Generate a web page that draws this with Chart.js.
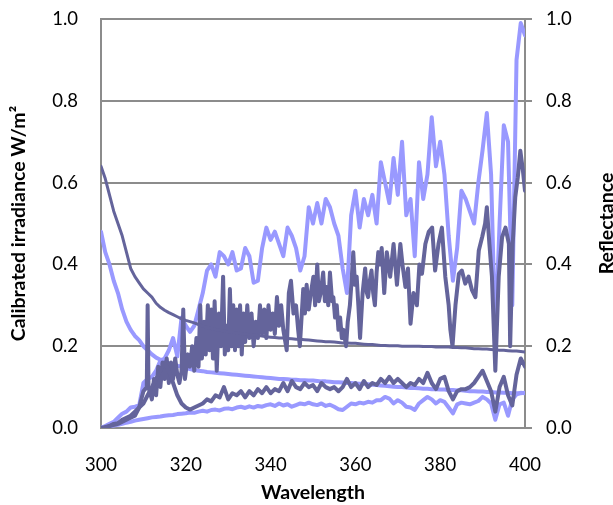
<!DOCTYPE html>
<html>
<head>
<meta charset="utf-8">
<script src="https://cdn.jsdelivr.net/npm/chart.js@4/dist/chart.umd.min.js"></script>
<style>
  html, body { margin: 0; padding: 0; background: #fff; }
  #wrap { width: 613px; height: 505px; }
</style>
</head>
<body>
<div id="wrap"><canvas id="canvas" width="613" height="505"></canvas></div>
<script>
// wavelength grid (nm) for the 1 nm series
const wavelengths = Array.from({ length: 101 }, (_, i) => 300 + i);

// reflectance, dark
const reflDark = [
  0.64, 0.61, 0.57, 0.53, 0.50, 0.47, 0.43, 0.39, 0.37, 0.355,
  0.34, 0.33, 0.32, 0.305, 0.295, 0.288, 0.282, 0.277, 0.272, 0.267,
  0.263, 0.26, 0.257, 0.253, 0.249, 0.246, 0.243, 0.241, 0.239, 0.237,
  0.235, 0.234, 0.232, 0.231, 0.23, 0.228, 0.227, 0.226, 0.225, 0.223,
  0.222, 0.221, 0.22, 0.22, 0.219, 0.218, 0.217, 0.217, 0.216, 0.215,
  0.214, 0.213, 0.212, 0.211, 0.211, 0.21, 0.209, 0.208, 0.208, 0.207,
  0.207, 0.206, 0.205, 0.204, 0.204, 0.203, 0.202, 0.202, 0.201, 0.201,
  0.201, 0.2, 0.2, 0.2, 0.2, 0.2, 0.199, 0.199, 0.199, 0.198,
  0.198, 0.198, 0.198, 0.197, 0.197, 0.196, 0.196, 0.195, 0.194, 0.194,
  0.193, 0.193, 0.192, 0.191, 0.19, 0.19, 0.189, 0.188, 0.188, 0.187,
  0.186
];

// reflectance, light
const reflLight = [
  0.48, 0.43, 0.40, 0.36, 0.33, 0.29, 0.26, 0.24, 0.225, 0.215,
  0.20, 0.19, 0.18, 0.172, 0.167, 0.163, 0.158, 0.155, 0.152, 0.15,
  0.146, 0.144, 0.142, 0.14, 0.139, 0.137, 0.136, 0.135, 0.134, 0.133,
  0.132, 0.131, 0.13, 0.129, 0.128, 0.127, 0.126, 0.125, 0.124, 0.123,
  0.122, 0.121, 0.12, 0.12, 0.119, 0.118, 0.118, 0.117, 0.117, 0.116,
  0.116, 0.115, 0.114, 0.114, 0.113, 0.112, 0.112, 0.111, 0.11, 0.11,
  0.109, 0.108, 0.108, 0.107, 0.106, 0.105, 0.104, 0.103, 0.102, 0.101,
  0.1, 0.1, 0.099, 0.098, 0.098, 0.097, 0.096, 0.096, 0.095, 0.095,
  0.094, 0.094, 0.093, 0.093, 0.092, 0.092, 0.091, 0.09, 0.09, 0.089,
  0.089, 0.088, 0.088, 0.087, 0.087, 0.086, 0.086, 0.085, 0.085, 0.085,
  0.086
];

// calibrated irradiance, light, high
const irrLightHigh = [
  0.0, 0.005, 0.01, 0.015, 0.025, 0.035, 0.04, 0.05, 0.052, 0.055,
  0.11, 0.12, 0.125, 0.14, 0.165, 0.17, 0.19, 0.22, 0.175, 0.27,
  0.25, 0.235, 0.25, 0.29, 0.33, 0.385, 0.40, 0.37, 0.43, 0.42,
  0.40, 0.43, 0.385, 0.39, 0.44, 0.42, 0.355, 0.36, 0.44, 0.49,
  0.46, 0.48, 0.45, 0.42, 0.49, 0.47, 0.44, 0.385, 0.42, 0.54,
  0.50, 0.55, 0.50, 0.56, 0.54, 0.50, 0.47, 0.39, 0.33, 0.52,
  0.58, 0.49, 0.56, 0.52, 0.57, 0.50, 0.65, 0.60, 0.55, 0.66,
  0.57, 0.70, 0.52, 0.56, 0.42, 0.65, 0.56, 0.62, 0.76, 0.64,
  0.70, 0.62, 0.47, 0.36, 0.44, 0.58, 0.56, 0.53, 0.50, 0.60,
  0.68, 0.77, 0.62, 0.22, 0.50, 0.74, 0.70, 0.30, 0.90, 0.99,
  0.96
];

// calibrated irradiance, dark, low
const irrDarkLow = [
  0.0, 0.0, 0.005, 0.01, 0.012, 0.02, 0.025, 0.03, 0.04, 0.05,
  0.06, 0.08, 0.10, 0.12, 0.14, 0.16, 0.14, 0.11, 0.08, 0.06,
  0.05, 0.045, 0.05, 0.055, 0.06, 0.07, 0.065, 0.08, 0.075, 0.10,
  0.07, 0.085, 0.08, 0.09, 0.075, 0.09, 0.08, 0.095, 0.085, 0.10,
  0.085, 0.095, 0.09, 0.11, 0.09, 0.115, 0.10, 0.095, 0.11, 0.10,
  0.105, 0.09, 0.11, 0.10, 0.095, 0.10, 0.09, 0.10, 0.12, 0.10,
  0.11, 0.095, 0.115, 0.10, 0.11, 0.105, 0.12, 0.11, 0.125, 0.11,
  0.12, 0.11, 0.10, 0.11, 0.105, 0.12, 0.11, 0.135, 0.11, 0.095,
  0.12, 0.125, 0.09, 0.07, 0.09, 0.095, 0.095, 0.10, 0.11, 0.125,
  0.14, 0.115, 0.09, 0.04, 0.10, 0.125, 0.08, 0.055, 0.13, 0.17,
  0.15
];

// calibrated irradiance, light, low
const irrLightLow = [
  0.0, 0.002, 0.004, 0.006, 0.008, 0.01, 0.013, 0.015, 0.018, 0.02,
  0.022, 0.024, 0.026, 0.027, 0.028, 0.03, 0.031, 0.032, 0.034, 0.035,
  0.036, 0.038, 0.037, 0.04, 0.042, 0.04, 0.044, 0.045, 0.043, 0.047,
  0.048, 0.046, 0.05, 0.052, 0.049, 0.053, 0.05, 0.054, 0.052, 0.056,
  0.058, 0.054, 0.06, 0.055, 0.058, 0.052, 0.056, 0.06, 0.058, 0.062,
  0.058, 0.056, 0.06, 0.054, 0.057, 0.052, 0.046, 0.044, 0.052, 0.06,
  0.058, 0.062, 0.06, 0.064, 0.062, 0.068, 0.068, 0.076, 0.072, 0.06,
  0.068, 0.062, 0.052, 0.05, 0.044, 0.06, 0.068, 0.076, 0.07, 0.06,
  0.068, 0.064, 0.05, 0.036, 0.058, 0.062, 0.06, 0.058, 0.062, 0.066,
  0.076, 0.07, 0.06, 0.02, 0.058, 0.062, 0.03, 0.07, 0.082, 0.086,
  0.085
];

// calibrated irradiance, dark, high (irregular sampling)
const darkHighWl = [
  300, 302, 304, 306, 308, 309, 310, 310.8, 311, 311.2,
  312, 312.5, 313, 313.5, 314, 314.5, 315, 315.5, 316, 316.5,
  317, 317.5, 318, 318.5, 319, 319.4, 319.8, 320.5, 321, 321.5,
  322, 322.5, 323, 323.4, 323.8, 324.3, 324.7, 325.2, 325.6, 326,
  326.4, 326.8, 327.3, 327.8, 328.3, 328.8, 329.2, 329.6, 330, 330.4,
  330.8, 331.2, 331.6, 332, 332.4, 332.8, 333.2, 333.6, 334, 334.5,
  335, 335.5, 336, 336.5, 337, 337.5, 338, 338.5, 339, 339.5,
  340, 340.5, 341, 341.5, 342, 342.5, 343, 343.8, 344.3, 344.8,
  345.4, 346, 346.5, 346.9, 347.7, 348.1, 348.5, 349, 349.5, 350.1,
  350.5, 351, 351.4, 351.8, 352.4, 352.8, 353.2, 353.6, 354, 354.5,
  354.8, 355.2, 355.6, 356, 356.4, 356.8, 357.2, 357.8, 358.2, 358.7,
  359.1, 359.5, 359.9, 360.3, 360.7, 361.1, 361.7, 362.3, 362.7, 363,
  363.4, 363.8, 364.2, 364.6, 365, 365.4, 365.8, 366.2, 366.8, 367.4,
  368.2, 369, 369.8, 370.6, 371.1, 371.8, 372.4, 373, 373.7, 374.5,
  375.1, 375.7, 376.5, 377.3, 378.1, 378.8, 379.6, 380.4, 381.2, 382,
  382.4, 382.9, 383.6, 384.4, 385.1, 385.9, 386.7, 387.5, 388.3, 389.1,
  389.9, 390.6, 391, 391.6, 392.2, 393, 393.8, 394.6, 395.4, 396.2,
  396.5, 397.1, 397.7, 398.3, 398.9, 399.5, 400
];
const darkHighVal = [
  0.0, 0.005, 0.01, 0.02, 0.03, 0.05, 0.09, 0.10, 0.30, 0.10,
  0.07, 0.12, 0.08, 0.15, 0.10, 0.16, 0.12, 0.17, 0.11, 0.16,
  0.12, 0.17, 0.13, 0.11, 0.14, 0.29, 0.12, 0.18, 0.15, 0.20,
  0.14, 0.22, 0.15, 0.30, 0.17, 0.26, 0.18, 0.30, 0.19, 0.29,
  0.17, 0.31, 0.14, 0.28, 0.20, 0.37, 0.18, 0.25, 0.19, 0.34,
  0.20, 0.30, 0.19, 0.29, 0.20, 0.30, 0.18, 0.28, 0.21, 0.30,
  0.22, 0.28, 0.20, 0.26, 0.22, 0.30, 0.23, 0.29, 0.22, 0.30,
  0.24, 0.28, 0.23, 0.32, 0.25, 0.30, 0.24, 0.19, 0.33, 0.36,
  0.28, 0.30, 0.24, 0.20, 0.34, 0.28, 0.35, 0.29, 0.33, 0.37,
  0.30, 0.40, 0.31, 0.33, 0.38, 0.31, 0.345, 0.30, 0.38, 0.31,
  0.32, 0.27, 0.30, 0.24, 0.27, 0.22, 0.24, 0.20, 0.26, 0.30,
  0.36, 0.43, 0.35, 0.37, 0.30, 0.22, 0.33, 0.39, 0.33, 0.32,
  0.36, 0.385, 0.33, 0.30, 0.38, 0.43, 0.40, 0.44, 0.33, 0.43,
  0.37, 0.45, 0.35, 0.45, 0.40, 0.345, 0.39, 0.255, 0.33, 0.30,
  0.40, 0.377, 0.45, 0.48, 0.49, 0.385, 0.45, 0.49, 0.37, 0.30,
  0.24, 0.20, 0.30, 0.377, 0.385, 0.353, 0.37, 0.337, 0.32, 0.434,
  0.467, 0.50, 0.54, 0.45, 0.37, 0.14, 0.37, 0.467, 0.49, 0.45,
  0.20, 0.45, 0.564, 0.613, 0.678, 0.63, 0.58
];

const yTicks = [0, 0.2, 0.4, 0.6, 0.8, 1.0];
const xTicks = [300, 320, 340, 360, 380, 400];

const DARK = "#64649b";
const LIGHT = "#9999ff";
const GRID = "#8c8c8c";
const FONT = "Lato, 'Open Sans', sans-serif";

const pairs = (xs, ys) => xs.map((x, i) => ({ x: x, y: ys[i] }));

const line = (label, data, color, width, axis) => ({
  label: label,
  data: data,
  borderColor: color,
  backgroundColor: color,
  borderWidth: width,
  pointRadius: 0,
  tension: 0,
  fill: false,
  yAxisID: axis,
  borderJoinStyle: "round",
  borderCapStyle: "round",
});

// fixed box for a vertical axis; drop the tick-label overflow padding
const fixWidth = (w) => (s) => {
  s.width = w;
  s.paddingTop = 0;
  s.paddingBottom = 0;
};

// right-hand axis title, reading bottom to top like the left one
const rightTitle = {
  id: "rightTitle",
  afterDraw(chart) {
    const { ctx, chartArea } = chart;
    ctx.save();
    ctx.translate(607, (chartArea.top + chartArea.bottom) / 2);
    ctx.rotate(-Math.PI / 2);
    ctx.font = "bold 19.5px " + FONT;
    ctx.fillStyle = "#000";
    ctx.textAlign = "center";
    ctx.textBaseline = "middle";
    ctx.fillText("Reflectance", 0, 0);
    ctx.restore();
  }
};

const canvas = document.getElementById("canvas").getContext("2d");

const plot = new Chart(canvas, {
  type: "line",
  data: {
    datasets: [
      line("Reflectance (dark)", pairs(wavelengths, reflDark), DARK, 3, "y1"),
      line("Irradiance low (dark)", pairs(wavelengths, irrDarkLow), DARK, 4, "y"),
      line("Irradiance high (dark)", pairs(darkHighWl, darkHighVal), DARK, 4, "y"),
      line("Reflectance (light)", pairs(wavelengths, reflLight), LIGHT, 4, "y1"),
      line("Irradiance low (light)", pairs(wavelengths, irrLightLow), LIGHT, 4, "y"),
      line("Irradiance high (light)", pairs(wavelengths, irrLightHigh), LIGHT, 4, "y"),
    ]
  },
  options: {
    responsive: false,
    animation: false,
    events: [],
    layout: { padding: { top: 19, left: 0, right: 0, bottom: 0 } },
    plugins: {
      legend: { display: false },
      tooltip: { enabled: false },
    },
    scales: {
      x: {
        type: "linear",
        position: "bottom",
        min: 300,
        max: 400,
        afterFit: (s) => { s.height = 77; },
        afterBuildTicks: (s) => { s.ticks = xTicks.map(v => ({ value: v })); },
        grid: { display: false, drawTicks: false },
        border: { display: true, color: GRID, width: 2 },
        ticks: { padding: 26, color: "#000", font: { family: FONT, size: 18.5 } },
        title: {
          display: true,
          text: "Wavelength",
          color: "#000",
          padding: { bottom: 1 },
          font: { family: FONT, size: 19.5, weight: "bold" }
        }
      },
      y: {
        type: "linear",
        position: "left",
        min: 0,
        max: 1,
        afterFit: fixWidth(101),
        afterBuildTicks: (s) => { s.ticks = yTicks.map(v => ({ value: v })); },
        grid: { color: GRID, lineWidth: 2, drawTicks: false },
        border: { display: true, color: GRID, width: 2 },
        ticks: {
          padding: 23,
          color: "#000",
          font: { family: FONT, size: 18.5 },
          callback: (v) => v.toFixed(1)
        },
        title: {
          display: true,
          text: "Calibrated irradiance W/m²",
          color: "#000",
          padding: { top: 7 },
          font: { family: FONT, size: 19.5, weight: "bold" }
        }
      },
      y1: {
        type: "linear",
        position: "right",
        min: 0,
        max: 1,
        afterFit: fixWidth(88),
        afterBuildTicks: (s) => { s.ticks = yTicks.map(v => ({ value: v })); },
        grid: { color: GRID, lineWidth: 2, drawOnChartArea: false, drawTicks: true, tickLength: 7 },
        border: { display: true, color: GRID, width: 2 },
        ticks: {
          padding: 14,
          color: "#000",
          font: { family: FONT, size: 18.5 },
          callback: (v) => v.toFixed(1)
        }
      }
    }
  },
  plugins: [rightTitle]
});
</script>
</body>
</html>
